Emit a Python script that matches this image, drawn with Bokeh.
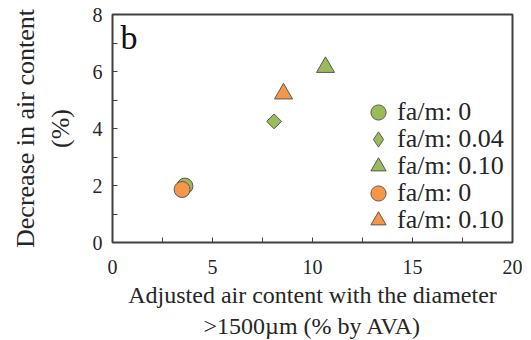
from bokeh.plotting import figure
from bokeh.models import FixedTicker, Legend, LegendItem, Label
from bokeh.embed import file_html
from bokeh.resources import INLINE

# data
gc_x = [3.62]; gc_y = [1.98]          # green circle fa/m: 0
gd_x = [8.08]; gd_y = [4.25]          # green diamond fa/m: 0.04
gt_x = [10.65]; gt_y = [6.15]         # green triangle fa/m: 0.10
oc_x = [3.48]; oc_y = [1.86]          # orange circle fa/m: 0
ot_x = [8.55]; ot_y = [5.22]          # orange triangle fa/m: 0.10
labels = ["fa/m: 0", "fa/m: 0.04", "fa/m: 0.10", "fa/m: 0", "fa/m: 0.10"]

x_ticks = [0, 5, 10, 15, 20]
x_minor = [2.5, 7.5, 12.5, 17.5]
y_ticks = [0, 2, 4, 6, 8]
y_minor = [1, 3, 5, 7]

GREEN = "#9BBB59"
ORANGE = "#F79646"
EDGE = "#595959"
FONT = "Liberation Serif"
TXT = "#262626"

p = figure(frame_width=400, frame_height=228, x_range=(0, 20), y_range=(0, 8),
           output_backend="svg", toolbar_location=None,
           min_border_left=112, min_border_right=10, min_border_top=14, min_border_bottom=89)
p.grid.visible = False
p.outline_line_color = "#404040"
p.outline_line_width = 2

for ax in (p.xaxis[0], p.yaxis[0]):
    ax.axis_line_color = None
    ax.major_tick_in = 5
    ax.major_tick_out = 0
    ax.minor_tick_in = 5
    ax.minor_tick_out = 0
    ax.major_tick_line_color = "#404040"
    ax.minor_tick_line_color = "#404040"
    ax.major_label_text_font = FONT
    ax.major_label_text_font_size = "20px"
    ax.major_label_text_color = TXT
    ax.axis_label_text_font = FONT
    ax.axis_label_text_font_style = "normal"
    ax.axis_label_text_color = TXT

p.xaxis[0].axis_label_text_font_size = "24px"
p.yaxis[0].axis_label_text_font_size = "26px"
p.xaxis[0].ticker = FixedTicker(ticks=x_ticks, minor_ticks=x_minor)
p.yaxis[0].ticker = FixedTicker(ticks=y_ticks, minor_ticks=y_minor)
p.xaxis[0].major_label_standoff = 17
p.yaxis[0].major_label_standoff = 10
p.xaxis[0].axis_label_standoff = 5
p.yaxis[0].axis_label_standoff = 15
p.xaxis[0].axis_label = "Adjusted air content with the diameter\n>1500\u00b5m (% by AVA)"
p.yaxis[0].axis_label = "Decrease in air content\n(%)"

r1 = p.scatter(gc_x, gc_y, marker="circle", size=16, fill_color=GREEN, line_color=EDGE, line_width=1)
r2 = p.scatter(gd_x, gd_y, marker="square", size=10.5, angle=0.785398, fill_color=GREEN, line_color=EDGE, line_width=1)
r3 = p.scatter(gt_x, gt_y, marker="triangle", size=18, fill_color=GREEN, line_color=EDGE, line_width=1)
r4 = p.scatter(oc_x, oc_y, marker="circle", size=16, fill_color=ORANGE, line_color=EDGE, line_width=1)
r5 = p.scatter(ot_x, ot_y, marker="triangle", size=18, fill_color=ORANGE, line_color=EDGE, line_width=1)
# legend-only glyph for the diamond (the legend does not rotate markers)
r2_leg = p.scatter(gd_x, gd_y, marker="diamond", fill_color=GREEN, line_color=EDGE, line_width=1, visible=False)

renderers = [r1, r2_leg, r3, r4, r5]
row_pitch = 27
for k, (lab, rend) in enumerate(zip(labels, renderers)):
    lg = Legend(items=[LegendItem(label=lab, renderers=[rend])],
                location=(247, 111 - row_pitch * k))
    lg.label_text_font = FONT
    lg.label_text_font_size = "26px"
    lg.label_text_color = TXT
    lg.glyph_width = 38
    lg.glyph_height = 38
    lg.label_height = 38
    lg.spacing = 0
    lg.padding = 0
    lg.margin = 0
    lg.label_standoff = 0
    lg.border_line_color = None
    lg.background_fill_alpha = 0
    p.add_layout(lg, "center")

p.add_layout(Label(x=0.4, y=7.85, text="b", text_font=FONT, text_font_size="34px",
                   text_color="#111111", text_baseline="top"))

open("out.html", "w").write(file_html(p, INLINE))
